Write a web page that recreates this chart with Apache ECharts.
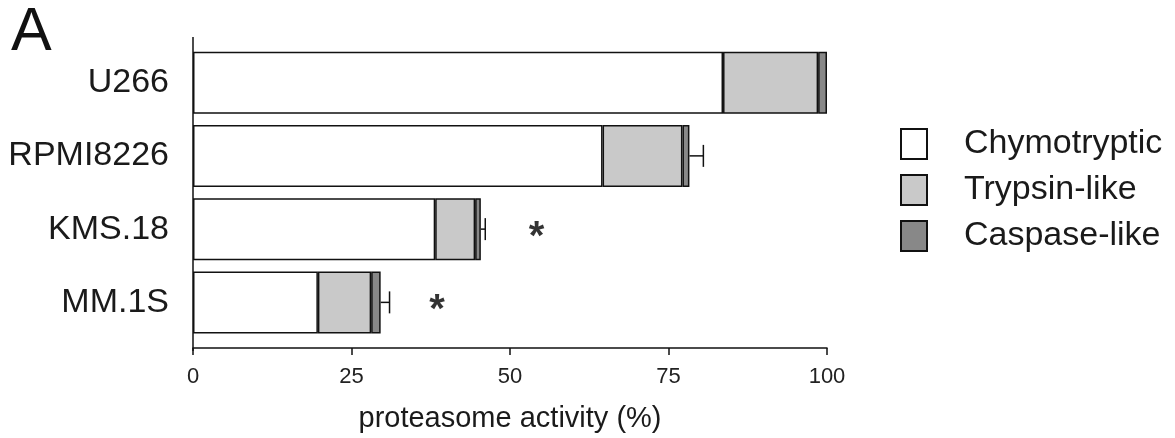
<!DOCTYPE html>
<html>
<head>
<meta charset="utf-8">
<script src="https://cdn.jsdelivr.net/npm/echarts@6/dist/echarts.min.js"></script>
<style>html,body{margin:0;padding:0;background:#fff}#c{width:1175px;height:438px}</style>
</head>
<body>
<div id="c"></div>
<script>
const categories = ['U266', 'RPMI8226', 'KMS.18', 'MM.1S'];
const chymotryptic = [83.6, 64.6, 38.2, 19.7];
const trypsinLike = [15.0, 12.6, 6.3, 8.4];
const caspaseLike = [1.4, 1.1, 0.9, 1.5];
const errorPlus = [0, 2.2, 0.7, 1.4];
const starX = [null, null, 54.2, 38.5];
const xTicks = [0, 25, 50, 75, 100];

const FONT = '"Liberation Sans", Arial, sans-serif';
const chart = echarts.init(document.getElementById('c'), null, {renderer: 'canvas'});

const totals = categories.map((c, i) => chymotryptic[i] + trypsinLike[i] + caspaseLike[i]);
const errData = categories.map((c, i) => [totals[i], errorPlus[i], i]).filter(d => d[1] > 0);
const starData = categories.map((c, i) => [starX[i], i]).filter(d => d[0] != null);

const barStyle = (color) => ({color: color, borderColor: '#111', borderWidth: 1.5});

chart.setOption({
  animation: false,
  title: {text: 'A', left: 11, top: 3, padding: 0,
    textStyle: {fontFamily: FONT, fontSize: 61, fontWeight: 'normal', color: '#111'}},
  legend: {
    orient: 'vertical', left: 900, top: 127, padding: 0,
    itemWidth: 26, itemHeight: 30, itemGap: 12, icon: 'rect',
    selectedMode: false,
    textStyle: {fontFamily: FONT, fontSize: 34, color: '#1a1a1a', padding: [0, 0, 0, 32]},
    data: ['Chymotryptic', 'Trypsin-like', 'Caspase-like']
  },
  grid: {left: 193, right: 348, top: 46, height: 296},
  xAxis: {
    type: 'value', min: 0, max: 100, interval: 25, offset: 9,
    axisLine: {show: true, lineStyle: {color: '#111', width: 1.5}},
    axisTick: {show: true, length: 7, lineStyle: {color: '#111', width: 1.5}},
    splitLine: {show: false},
    axisLabel: {fontFamily: FONT, fontSize: 22, color: '#222', margin: 18,
      formatter: v => xTicks.includes(v) ? String(v) : ''},
    name: 'proteasome activity (%)', nameLocation: 'middle', nameGap: 56,
    nameTextStyle: {fontFamily: FONT, fontSize: 29, color: '#1a1a1a'}
  },
  yAxis: {
    type: 'category', data: categories, inverse: true,
    axisLine: {show: false}, axisTick: {show: false},
    axisLabel: {fontFamily: FONT, fontSize: 34, color: '#1a1a1a', margin: 24}
  },
  series: [
    {name: 'Chymotryptic', type: 'bar', stack: 'a', barWidth: 62, data: chymotryptic, itemStyle: barStyle('#ffffff')},
    {name: 'Trypsin-like', type: 'bar', stack: 'a', barWidth: 62, data: trypsinLike, itemStyle: barStyle('#c9c9c9')},
    {name: 'Caspase-like', type: 'bar', stack: 'a', barWidth: 62, data: caspaseLike, itemStyle: barStyle('#888888')},
    {
      type: 'custom', z: 5, data: errData,
      encode: {x: 0, y: 2},
      renderItem: function (params, api) {
        const t = api.value(0), e = api.value(1), idx = api.value(2);
        const p0 = api.coord([t, idx]);
        const p1 = api.coord([t + e, idx]);
        const half = api.size([0, 1])[1] * 0.15;
        const st = {stroke: '#111', lineWidth: 1.5};
        return {type: 'group', children: [
          {type: 'line', shape: {x1: p0[0], y1: p0[1], x2: p1[0], y2: p1[1]}, style: st},
          {type: 'line', shape: {x1: p1[0], y1: p1[1] - half, x2: p1[0], y2: p1[1] + half}, style: st}
        ]};
      }
    },
    {
      type: 'scatter', symbolSize: 0, data: starData, z: 6, silent: true,
      label: {show: true, position: 'inside', formatter: '*', offset: [0, 9],
        fontFamily: FONT, fontSize: 40, fontWeight: 'bold', color: '#000'}
    }
  ]
});

const x0 = chart.convertToPixel({xAxisIndex: 0}, 0);
chart.setOption({graphic: [{type: 'line', z: 10,
  shape: {x1: x0, y1: 37, x2: x0, y2: 351},
  style: {stroke: '#111', lineWidth: 1.5}}]});
</script>
</body>
</html>
